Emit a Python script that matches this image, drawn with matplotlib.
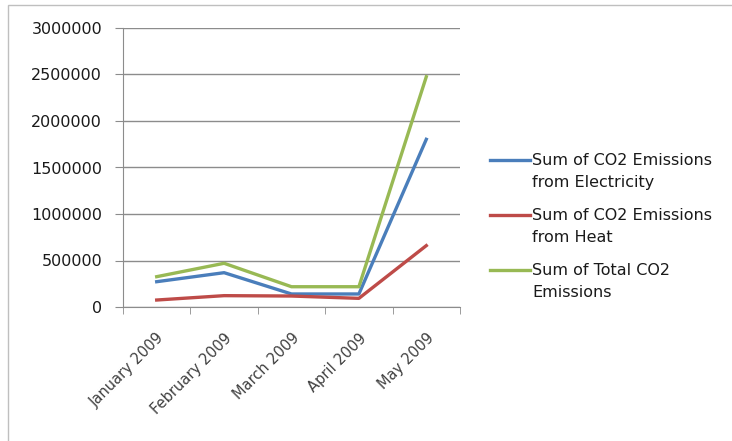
import matplotlib.pyplot as plt
from matplotlib.patches import Rectangle
from matplotlib.lines import Line2D

plt.rcParams['font.family'] = ['DejaVu Sans']

# data
months = ['January 2009', 'February 2009', 'March 2009', 'April 2009', 'May 2009']
electricity = [272000, 369000, 140000, 140000, 1803000]
heat = [75000, 122000, 118000, 93000, 660000]
total = [326000, 470000, 218000, 218000, 2476000]
labels = ['Sum of CO2 Emissions\nfrom Electricity', 'Sum of CO2 Emissions\nfrom Heat',
          'Sum of Total CO2\nEmissions']
colors = ['#4a7ebb', '#be4b48', '#98b954']

W, H = 732, 441
fig = plt.figure(figsize=(W / 100, H / 100), dpi=100)
fig.patches.append(Rectangle((8 / W, -0.05), 1.0, 1 - 5 / H + 0.05,
                             transform=fig.transFigure, fill=False,
                             edgecolor='#bfbfbf', linewidth=1.0))
ax = fig.add_axes([123 / W, 1 - 307 / H, (460 - 123) / W, (307 - 28) / H])

x = list(range(len(months)))
for vals, c in zip([electricity, heat, total], colors):
    ax.plot(x, vals, color=c, linewidth=2.4)

ax.set_xlim(-0.5, len(months) - 0.5)
ax.set_ylim(0, 3000000)
ax.set_yticks(range(0, 3000001, 500000))
ax.set_yticklabels([str(v) for v in range(0, 3000001, 500000)])
ax.grid(axis='y', color='#8c8c8c', linewidth=1.0)
ax.set_axisbelow(True)

ax.set_xticks(x)
ax.set_xticklabels(months, rotation=45, ha='right', rotation_mode='anchor')
ax.set_xticks([i - 0.5 for i in range(len(months) + 1)], minor=True)
ax.tick_params(axis='x', which='major', length=0, pad=17, labelsize=10.5, colors='#404040')
ax.tick_params(axis='x', which='minor', length=5, color='#8c8c8c')
ax.tick_params(axis='y', length=6, color='#8c8c8c', labelsize=11.5, labelcolor='#1a1a1a', pad=9)

for s in ['top', 'right']:
    ax.spines[s].set_visible(False)
for s in ['left', 'bottom']:
    ax.spines[s].set_color('#8c8c8c')

# legend drawn by hand so the line sits on the first text line, like Excel
for i, (lab, c) in enumerate(zip(labels, colors)):
    y = 1 - (160 + 55 * i) / H
    fig.add_artist(Line2D([490 / W, 530 / W], [y, y], color=c, linewidth=2.4,
                          transform=fig.transFigure))
    fig.text(532 / W, y + 7 / H, lab, fontsize=11.5, va='top', ha='left',
             linespacing=1.55, color='#1a1a1a')

fig.savefig('out.png', dpi=100)
